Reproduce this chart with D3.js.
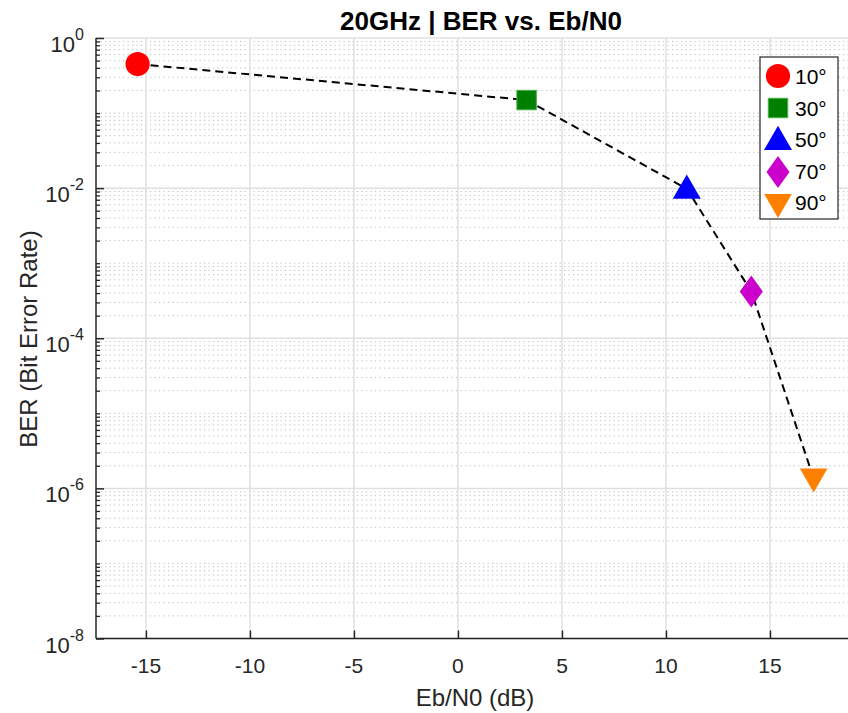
<!DOCTYPE html>
<html>
<head>
<meta charset="utf-8">
<script src="https://cdn.jsdelivr.net/npm/d3@7"></script>
<style>
body { margin: 0; background: #fff; }
text { font-family: "Liberation Sans", Arial, sans-serif; }
</style>
</head>
<body>
<script>
//chart data
var angles = ["10°", "30°", "50°", "70°", "90°"];
var ebn0 = [-15.4, 3.3, 11.0, 14.1, 17.1];
var ber = [0.45, 0.149, 0.0098, 4.2e-4, 1.35e-6];
var shapes = ["circle", "square", "triangle", "diamond", "triangleDown"];
var colors = ["#ff0000", "#008000", "#0000ff", "#cc00cc", "#ff8000"];
var xTicks = [-15, -10, -5, 0, 5, 10, 15];
var yTicks = [1e0, 1e-2, 1e-4, 1e-6, 1e-8];

var width = 848, height = 713;
//plot frame (note: "top" is a reserved window name, so use plotTop)
var plotLeft = 96, plotRight = 848, plotTop = 38, plotBottom = 638.5;

var svg = d3.select("body").append("svg")
    .attr("width", width)
    .attr("height", height);

var x = d3.scaleLinear().domain([-17.4, 18.75]).range([plotLeft, plotRight]);
var y = d3.scaleLog().domain([1e-8, 1]).range([plotBottom, plotTop]);

//minor grid (dotted) for every m x 10^k that is not a major tick
var minor = [];
for (var k = -8; k < 0; k++) {
    for (var m = 1; m <= 9; m++) {
        if (m == 1 && k % 2 == 0) continue;
        minor.push(m * Math.pow(10, k));
    }
}
svg.append("g").selectAll("line")
    .data(minor)
    .enter()
    .append("line")
    .attr("x1", plotLeft).attr("x2", plotRight)
    .attr("y1", function(d){ return y(d); })
    .attr("y2", function(d){ return y(d); })
    .style("stroke", "#bdbdbd")
    .style("stroke-width", 1)
    .style("stroke-dasharray", "1.2,3.3");

//major grid
svg.append("g").selectAll("line")
    .data(yTicks)
    .enter()
    .append("line")
    .attr("x1", plotLeft).attr("x2", plotRight)
    .attr("y1", function(d){ return y(d); })
    .attr("y2", function(d){ return y(d); })
    .style("stroke", "#e0e0e0")
    .style("stroke-width", 1.5);
svg.append("g").selectAll("line")
    .data(xTicks)
    .enter()
    .append("line")
    .attr("x1", function(d){ return x(d); })
    .attr("x2", function(d){ return x(d); })
    .attr("y1", plotTop).attr("y2", plotBottom)
    .style("stroke", "#e0e0e0")
    .style("stroke-width", 1.5);

//axes
var xAxis = d3.axisTop(x).tickValues(xTicks).tickSize(8).tickFormat("");
svg.append("g")
    .attr("transform", "translate(0," + plotBottom + ")")
    .call(xAxis)
    .call(function(g){
        g.select(".domain").remove();
        g.selectAll("line").style("stroke", "#262626").style("stroke-width", 1.5);
    });
svg.append("line")
    .attr("x1", plotLeft).attr("x2", plotRight)
    .attr("y1", plotBottom).attr("y2", plotBottom)
    .style("stroke", "#262626").style("stroke-width", 1.5);

var yMinorAxis = d3.axisRight(y).tickValues(minor).tickSize(4).tickFormat("");
svg.append("g")
    .attr("transform", "translate(" + plotLeft + ",0)")
    .call(yMinorAxis)
    .call(function(g){
        g.select(".domain").remove();
        g.selectAll("line").style("stroke", "#262626").style("stroke-width", 1.3);
    });
var yAxis = d3.axisRight(y).tickValues(yTicks).tickSize(8).tickFormat("");
svg.append("g")
    .attr("transform", "translate(" + plotLeft + ",0)")
    .call(yAxis)
    .call(function(g){
        g.select(".domain").remove();
        g.selectAll("line").style("stroke", "#262626").style("stroke-width", 1.5);
    });
svg.append("line")
    .attr("x1", plotLeft).attr("x2", plotLeft)
    .attr("y1", plotTop).attr("y2", plotBottom)
    .style("stroke", "#262626").style("stroke-width", 1.5);

//tick labels
svg.append("g").selectAll("text")
    .data(xTicks)
    .enter()
    .append("text")
    .attr("x", function(d){ return x(d); })
    .attr("y", 673)
    .attr("text-anchor", "middle")
    .style("font-size", "21px")
    .style("fill", "#262626")
    .text(function(d){ return d; });

var yLab = svg.append("g").selectAll("text")
    .data(yTicks)
    .enter()
    .append("text")
    .attr("x", 84)
    .attr("y", function(d){ return y(d) + 14; })
    .attr("text-anchor", "end")
    .style("font-size", "22px")
    .style("fill", "#262626");
yLab.append("tspan").text("10");
yLab.append("tspan")
    .attr("dy", -12)
    .style("font-size", "16px")
    .text(function(d){ return Math.round(Math.log10(d)); });

//titles
svg.append("text")
    .attr("x", 481).attr("y", 30)
    .attr("text-anchor", "middle")
    .style("font-size", "26px")
    .style("font-weight", "bold")
    .style("fill", "#000")
    .text("20GHz | BER vs. Eb/N0");
svg.append("text")
    .attr("x", 475).attr("y", 706)
    .attr("text-anchor", "middle")
    .style("font-size", "24px")
    .style("fill", "#262626")
    .text("Eb/N0 (dB)");
svg.append("text")
    .attr("transform", "translate(37,339) rotate(-90)")
    .attr("text-anchor", "middle")
    .style("font-size", "24px")
    .style("fill", "#262626")
    .text("BER (Bit Error Rate)");

//dashed line
var line = d3.line()
    .x(function(d, i){ return x(ebn0[i]); })
    .y(function(d){ return y(d); });
svg.append("path")
    .datum(ber)
    .attr("d", line)
    .style("fill", "none")
    .style("stroke", "#000")
    .style("stroke-width", 2)
    .style("stroke-dasharray", "8,5");

//marker shapes (MATLAB-like diamond is wider than d3's)
var wideDiamond = {
    draw: function(context, size){
        var h = 16, w = 11.5;
        context.moveTo(0, -h);
        context.lineTo(w, 0);
        context.lineTo(0, h);
        context.lineTo(-w, 0);
        context.closePath();
    }
};
var symbolFor = {
    circle: d3.symbol().type(d3.symbolCircle).size(460),
    square: d3.symbol().type(d3.symbolSquare).size(380),
    triangle: d3.symbol().type(d3.symbolTriangle).size(340),
    diamond: d3.symbol().type(wideDiamond),
    triangleDown: d3.symbol().type(d3.symbolTriangle).size(330)
};
function markerTransform(shape, cx, cy){
    if (shape == "triangle") return "translate(" + cx + "," + (cy + 2) + ")";
    if (shape == "triangleDown") return "translate(" + cx + "," + (cy - 2) + ") rotate(180)";
    return "translate(" + cx + "," + cy + ")";
}

svg.append("g").selectAll("path")
    .data(ber)
    .enter()
    .append("path")
    .attr("d", function(d, i){ return symbolFor[shapes[i]](); })
    .attr("transform", function(d, i){ return markerTransform(shapes[i], x(ebn0[i]), y(d)); })
    .style("fill", function(d, i){ return colors[i]; })
    .style("stroke", function(d, i){ return shapes[i] == "square" ? "#4cae4c" : "none"; })
    .style("stroke-width", 1);

//legend
var legend = svg.append("g");
legend.append("rect")
    .attr("x", 760).attr("y", 57)
    .attr("width", 78).attr("height", 162)
    .style("fill", "#fff")
    .style("stroke", "#262626")
    .style("stroke-width", 1.2);
var items = legend.selectAll(".item")
    .data(angles)
    .enter()
    .append("g")
    .attr("class", "item");
items.append("path")
    .attr("d", function(d, i){ return symbolFor[shapes[i]](); })
    .attr("transform", function(d, i){ return markerTransform(shapes[i], 778, 76 + i * 32); })
    .style("fill", function(d, i){ return colors[i]; })
    .style("stroke", function(d, i){ return shapes[i] == "square" ? "#4cae4c" : "none"; });
items.append("text")
    .attr("x", 795)
    .attr("y", function(d, i){ return 84 + i * 31.5; })
    .style("font-size", "21px")
    .style("fill", "#000")
    .text(function(d){ return d; });
</script>
</body>
</html>
